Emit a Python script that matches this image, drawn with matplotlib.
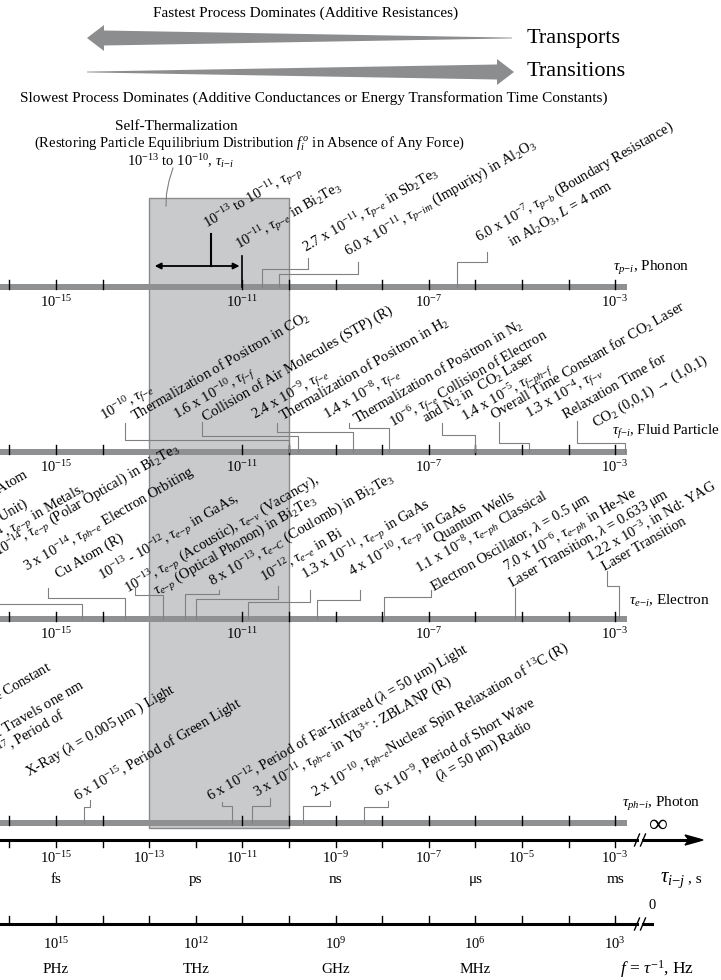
import numpy as np
import matplotlib
matplotlib.use("Agg")
import matplotlib.pyplot as plt
from matplotlib.patches import Polygon, Rectangle, FancyArrowPatch

plt.rcParams['font.family'] = ['Liberation Serif', 'DejaVu Serif']
plt.rcParams['mathtext.fontset'] = 'custom'
plt.rcParams['mathtext.rm'] = 'Liberation Serif'
plt.rcParams['mathtext.it'] = 'Liberation Serif:italic'
plt.rcParams['mathtext.bf'] = 'Liberation Serif:bold'
plt.rcParams['mathtext.fallback'] = 'stix'

# ---------------- data ----------------
TICK_DECADES = list(range(-16, -2))             # decade ticks on the time axes
BAND_TICK_DECADES = [d for d in TICK_DECADES if d not in (-13, -12)]
BAND_LABEL_DECADES = [-15, -11, -7, -3]
TIME_LABEL_DECADES = [-15, -13, -11, -9, -7, -5, -3]
TIME_UNITS = ['fs', 'ps', 'ns', 'μs', 'ms']
TIME_UNIT_DECADES = [-15, -12, -9, -6, -3]
FREQ_EXPONENTS = [15, 12, 9, 6, 3]
FREQ_UNITS = ['PHz', 'THz', 'GHz', 'MHz']
SELF_THERM_RANGE = (1e-13, 1e-10)   # s
PP_RANGE = (1e-13, 1e-11)           # s, tau_p-p
PE_BI2TE3 = 1e-11                   # s

BAND_NAMES = [r'$\tau_{p{-}i}$, Phonon', r'$\tau_{f{-}i}$, Fluid Particle',
              r'$\tau_{e{-}i}$, Electron', r'$\tau_{ph{-}i}$, Photon']


def tau(sub):
    return r'$\tau_{' + sub.replace('-', '{-}') + '}$'


def e(n):
    return '10$^{' + str(n) + '}$'


# label texts: (text, x_px, y_px, ha)  (rotated 30 deg, baseline anchored)
PHONON_LABELS = [
    (e(-13) + ' to ' + e(-11) + ', ' + tau('p-p'), 207, 229, 'left'),
    (e(-11) + ', ' + tau('p-e') + ' in Bi$_2$Te$_3$', 239, 250, 'left'),
    ('2.7 x ' + e(-11) + ', ' + tau('p-e') + ' in Sb$_2$Te$_3$', 306, 253, 'left'),
    ('6.0 x ' + e(-11) + ', ' + tau('p-im') + ' (Impurity) in Al$_2$O$_3$', 348, 257, 'left'),
    ('6.0 x ' + e(-7) + ', ' + tau('p-b') + ' (Boundary Resistance)', 479, 243, 'left'),
    ('in Al$_2$O$_3$, $L$ = 4 mm', 512, 247, 'left'),
]
FLUID_LABELS = [
    (e(-10) + ', ' + tau('f-e'), 104, 421, 'left'),
    ('Thermalization of Positron in CO$_2$', 135, 421, 'left'),
    ('1.6 x ' + e(-10) + ', ' + tau('f-f'), 177, 420, 'left'),
    ('Collision of Air Molecules (STP) (R)', 205, 421, 'left'),
    ('2.4 x ' + e(-9) + ', ' + tau('f-e'), 255, 420, 'left'),
    ('Thermalization of Positron in H$_2$', 283, 421, 'left'),
    ('1.4 x ' + e(-8) + ', ' + tau('f-e'), 327, 420, 'left'),
    ('Thermalization of Positron in N$_2$', 357, 424, 'left'),
    (e(-6) + ', ' + tau('f-e') + ' Collision of Electron', 393, 428, 'left'),
    ('and N$_2$ in  CO$_2$ Laser', 426, 423, 'left'),
    ('1.4 x ' + e(-5) + ', ' + tau('f-ph-f'), 465, 422, 'left'),
    ('Overall Time Constant for CO$_2$ Laser', 494, 420, 'left'),
    ('1.3 x ' + e(-4) + ', ' + tau('f-v'), 529, 419, 'left'),
    ('Relaxation Time for', 566, 419, 'left'),
    ('CO$_2$ (0,0,1) → (1,0,1)', 595, 428, 'left'),
]
ELECTRON_LABELS = [
    ('2.4 x ' + e(-17) + ', Electron Orbiting H Atom', 30, 477, 'right'),
    ('(Atomic Time Unit)', 28, 506, 'right'),
    (e(-14) + ', ' + tau('e-p') + ' in Metals,', 86, 491, 'right'),
    (e(-14) + ', ' + tau('e-p') + ' (Polar Optical) in Bi$_2$Te$_3$', -2, 557, 'left'),
    ('3 x ' + e(-14) + ', ' + tau('ph-e') + ' Electron Orbiting', 27, 572, 'left'),
    ('Cu Atom (R)', 58, 578, 'left'),
    (e(-13) + ' - ' + e(-12) + ', ' + tau('e-p') + ' in GaAs,', 102, 581, 'left'),
    (e(-13) + ', ' + tau('e-p') + ' (Acoustic), ' + tau('e-v') + ' (Vacancy),', 128, 594, 'left'),
    (tau('e-p') + ' (Optical Phonon) in Bi$_2$Te$_3$', 157, 596, 'left'),
    ('8 x ' + e(-13) + ', ' + tau('e-C') + ' (Coulomb) in Bi$_2$Te$_3$', 212, 587, 'left'),
    (e(-12) + ', ' + tau('e-e') + ' in Bi', 264, 582, 'left'),
    ('1.3 x ' + e(-11) + ', ' + tau('e-p') + ' in GaAs', 305, 580, 'left'),
    ('4 x ' + e(-10) + ', ' + tau('e-p') + ' in GaAs', 352, 577, 'left'),
    ('Quantum Wells', 437, 543, 'left'),
    ('1.1 x ' + e(-8) + ', ' + tau('e-ph') + ' Classical', 419, 574, 'left'),
    (r'Electron Oscillator, $\lambda$ = 0.5 μm', 433, 592, 'left'),
    ('7.0 x ' + e(-6) + ', ' + tau('e-ph') + ' in He-Ne', 507, 572, 'left'),
    (r'Laser Transition, $\lambda$ = 0.633 μm', 512, 588, 'left'),
    ('1.22 x ' + e(-3) + ', in Nd: YAG', 590, 563, 'left'),
    ('Laser Transition', 605, 571, 'left'),
]
PHOTON_LABELS = [
    ('5.4 x ' + e(-44) + ', Planck Time Constant', 53, 670, 'right'),
    ('3.3 x ' + e(-18) + ', Time Light Travels one nm', 86, 688, 'right'),
    ('1.7 x ' + e(-17) + ', Period of', 66, 718, 'right'),
    (r'X-Ray ($\lambda$ = 0.005 μm ) Light', 28, 777, 'left'),
    ('6 x ' + e(-15) + ', Period of Green Light', 78, 802, 'left'),
    ('6 x ' + e(-12) + r', Period of Far-Infrared ($\lambda$ = 50 μm) Light', 210, 802, 'left'),
    ('3 x ' + e(-11) + ', ' + tau('ph-e') + ' in Yb$^{3+}$: ZBLANP (R)', 257, 798, 'left'),
    ('2 x ' + e(-10) + ', ' + tau('ph-e') + 'Nuclear Spin Relaxation of $^{13}$C (R)', 315, 798, 'left'),
    ('6 x ' + e(-9) + ', Period of Short Wave', 378, 798, 'left'),
    (r'($\lambda$ = 50 μm) Radio', 438, 782, 'left'),
]

# leaders: (time on bar [s], knee y px, text-side x px, top y px)
PHONON_LEADERS = [(2.7e-11, 269, 308, 258), (6.0e-11, 274, 358, 262), (4.0e-7, 262, 487, 252)]
FLUID_LEADERS = [(1.0e-10, 440, 125, 423), (1.6e-10, 436, 202, 422), (2.4e-9, 432, 277, 423),
                 (1.4e-8, 428, 349, 423), (1.0e-6, 435, 442, 423), (1.4e-5, 443, 499, 422),
                 (1.6e-3, 443, 577, 421)]
ELECTRON_LEADERS = [(3.7e-15, 604, -10, 604), (3.0e-14, 598, 48, 588), (2.0e-13, 595, 135, 588),
                    (6.0e-13, 594, 219, 590), (1.0e-12, 599, 278, 586), (1.3e-11, 602, 310, 590),
                    (4.0e-10, 600, 360, 590), (1.1e-8, 597, 431, 590), (7.0e-6, 588, None, 588),
                    (1.22e-3, 586, 607, 571)]
PHOTON_LEADERS = [(4.0e-15, 807, 90, 800), (6.0e-12, 806, 222, 802), (1.6e-11, 806, 270, 798),
                  (2.0e-10, 806, 330, 801), (4.0e-9, 807, 388, 801)]

# ---------------- layout ----------------
W, H = 721, 980
X_1E11 = 242.3      # pixel column of 1e-11 s
PX_PER_DEC = 46.6
BAND_Y = [287, 452, 619, 823]
BAR_END_PX = 627
FS = 10.5
ANG = 30
LEADER_C = '#808080'
BAR_C = '#8f9092'


def tx(px):
    return 10 ** (-11 + (px - X_1E11) / PX_PER_DEC)


fig = plt.figure(figsize=(W / 100, H / 100), dpi=100)
ax = fig.add_axes([0, 0, 1, 1])
ax.set_xscale('log')
ax.set_xlim(tx(0), tx(W))
ax.set_ylim(H, 0)
ax.axis('off')

# ---- top arrows ----
arrow_c = '#8c8d8f'
ax.add_patch(Polygon([(tx(512), 37.6), (tx(104), 30.5), (tx(104), 25), (tx(87), 38),
                      (tx(104), 51), (tx(104), 45.5), (tx(512), 38.4)],
                     closed=True, fc=arrow_c, ec='none'))
ax.add_patch(Polygon([(tx(87), 71.6), (tx(497), 64.5), (tx(497), 59), (tx(514), 72),
                      (tx(497), 85), (tx(497), 79.5), (tx(87), 72.4)],
                     closed=True, fc=arrow_c, ec='none'))
ax.text(tx(306), 13, 'Fastest Process Dominates (Additive Resistances)', fontsize=11,
        ha='center', va='center')
ax.text(tx(527), 38, 'Transports', fontsize=16, ha='left', va='center')
ax.text(tx(527), 72, 'Transitions', fontsize=16, ha='left', va='center')
ax.text(tx(20), 98, 'Slowest Process Dominates (Additive Conductances or Energy '
        'Transformation Time Constants)', fontsize=11, ha='left', va='center')

# ---- self-thermalization box ----
ax.add_patch(Rectangle((SELF_THERM_RANGE[0], 198), SELF_THERM_RANGE[1] - SELF_THERM_RANGE[0],
                       630, fc='#c9cacc', ec='#8a8a8a', lw=1.0, zorder=1))
ax.text(tx(176), 127, 'Self-Thermalization', fontsize=FS + 0.5, ha='center', va='center')
ax.text(tx(250), 143, r'(Restoring Particle Equilibrium Distribution $f_i^{\,o}$ in Absence of Any Force)',
        fontsize=FS, ha='center', va='center')
ax.text(tx(180), 161, e(-13) + ' to ' + e(-10) + ', ' + tau('i-i'), fontsize=FS,
        ha='center', va='center')
cx = [173, 169, 166.5, 166]
cy = [168, 181, 194, 206]
ax.plot([tx(v) for v in cx], cy, color=LEADER_C, lw=0.8, zorder=5)

# ---- bands ----
for yb, name in zip(BAND_Y, BAND_NAMES):
    ax.add_patch(Rectangle((tx(0), yb - 3), tx(BAR_END_PX) - tx(0), 6, fc=BAR_C, ec='none', zorder=2))
    for d in BAND_TICK_DECADES:
        ax.plot([10.0 ** d] * 2, [yb - 7, yb + 2], color='k', lw=1.0, zorder=3)
    if yb != BAND_Y[-1]:
        for d in BAND_LABEL_DECADES:
            ax.text(10.0 ** d, yb + 15, '10$^{' + str(d) + '}$', fontsize=FS, ha='center', va='center')

ax.text(tx(613), 271, BAND_NAMES[0], fontsize=FS + 0.5, ha='left', va='baseline')
ax.text(tx(612), 435, BAND_NAMES[1], fontsize=FS + 0.3, ha='left', va='baseline')
ax.text(tx(629), 605, BAND_NAMES[2], fontsize=FS + 0.5, ha='left', va='baseline')
ax.text(tx(622), 807, BAND_NAMES[3], fontsize=FS + 0.5, ha='left', va='baseline')
ax.text(tx(658), 826, '∞', fontsize=19, ha='center', va='center')

# phonon-phonon range arrow and markers
ax.add_patch(FancyArrowPatch((PP_RANGE[0] * 1.15, 266), (PP_RANGE[1], 266), arrowstyle='<|-|>',
                             mutation_scale=9, color='k', lw=1.3, zorder=6))
ax.plot([tx(211)] * 2, [234, 266], color='k', lw=1.5, zorder=6)
ax.plot([PE_BI2TE3] * 2, [256, BAND_Y[0]], color='k', lw=1.2, zorder=6)


def draw_labels(labels):
    for txt, x, y, ha in labels:
        ax.text(tx(x), y, txt, fontsize=FS, rotation=ANG, rotation_mode='anchor',
                ha=ha, va='baseline', zorder=7)


def draw_leaders(leaders, yb):
    for t, knee, xtop, ytop in leaders:
        if xtop is None:
            ax.plot([t, t], [yb, ytop], color=LEADER_C, lw=0.8, zorder=4)
        else:
            ax.plot([t, t, tx(xtop), tx(xtop)], [yb, knee, knee, ytop], color=LEADER_C,
                    lw=0.8, zorder=4)


for labels, leaders, yb in [(PHONON_LABELS, PHONON_LEADERS, BAND_Y[0]),
                            (FLUID_LABELS, FLUID_LEADERS, BAND_Y[1]),
                            (ELECTRON_LABELS, ELECTRON_LEADERS, BAND_Y[2]),
                            (PHOTON_LABELS, PHOTON_LEADERS, BAND_Y[3])]:
    draw_labels(labels)
    draw_leaders(leaders, yb)

# ---- time axis ----
YT = 840
ax.plot([tx(0), tx(637)], [YT, YT], color='k', lw=2.2)
ax.plot([tx(643), tx(690)], [YT, YT], color='k', lw=2.2)
ax.add_patch(Polygon([(tx(685), YT - 5), (tx(703), YT), (tx(685), YT + 5), (tx(689), YT)],
                     closed=True, fc='k', ec='k'))
for xb in (634.5, 640.5):
    ax.plot([tx(xb), tx(xb + 5)], [YT + 6, YT - 6], color='k', lw=1.0)
for d in TICK_DECADES:
    ax.plot([10.0 ** d] * 2, [YT, YT + 7], color='k', lw=1.0)
for d in TIME_LABEL_DECADES:
    ax.text(10.0 ** d, 858, '10$^{' + str(d) + '}$', fontsize=FS, ha='center', va='center')
for d, u in zip(TIME_UNIT_DECADES, TIME_UNITS):
    ax.text(10.0 ** d, 879, u, fontsize=FS + 0.5, ha='center', va='center')
ax.text(tx(660), 882, r'$\tau_{i{-}j}$', fontsize=15, ha='left', va='baseline')
ax.text(tx(688), 882, ', s', fontsize=FS + 0.5, ha='left', va='baseline')
ax.text(tx(652), 905, '0', fontsize=FS, ha='center', va='center')

# ---- frequency axis ----
YF = 924
ax.plot([tx(0), tx(637)], [YF, YF], color='k', lw=2.2)
ax.plot([tx(643), tx(652)], [YF, YF], color='k', lw=2.2)
for xb in (634.5, 640.5):
    ax.plot([tx(xb), tx(xb + 5)], [YF + 6, YF - 6], color='k', lw=1.0)
for d in TICK_DECADES:
    ax.plot([10.0 ** d] * 2, [YF - 8, YF], color='k', lw=1.0)
for p in FREQ_EXPONENTS:
    ax.text(10.0 ** (-p), 944, '10$^{' + str(p) + '}$', fontsize=FS, ha='center', va='center')
for p, u in zip(FREQ_EXPONENTS, FREQ_UNITS):
    ax.text(10.0 ** (-p), 969, u, fontsize=FS + 0.5, ha='center', va='center')
ax.text(tx(620), 969, r'$f$ = $\tau^{-1}$, Hz', fontsize=12.5, ha='left', va='center')

fig.savefig('out.png', dpi=100)
